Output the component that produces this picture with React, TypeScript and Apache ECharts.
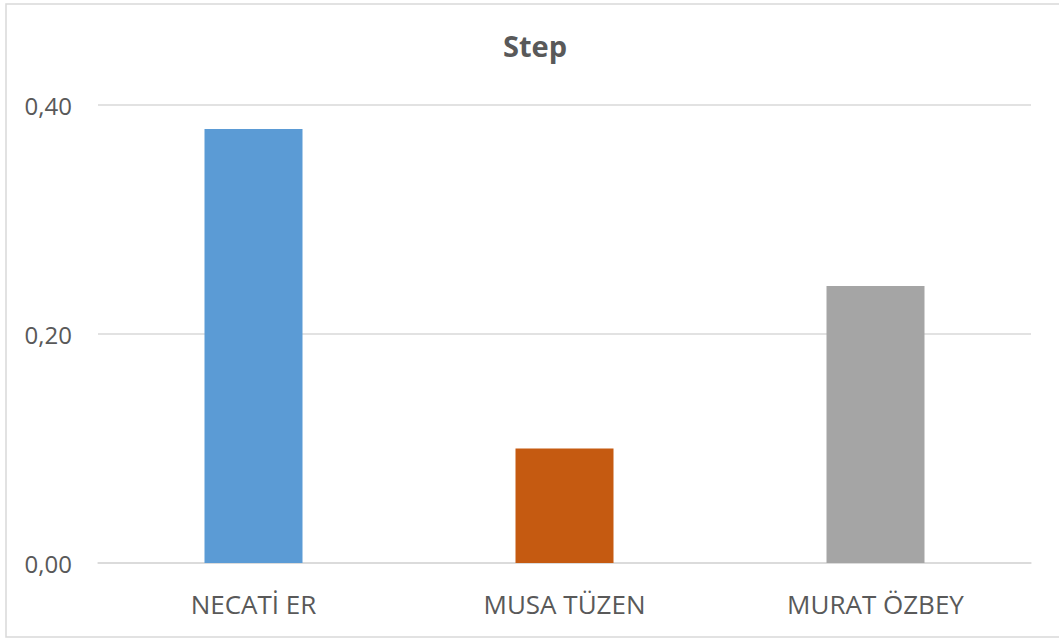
import React, { useEffect, useRef } from "react";
import * as echarts from "echarts";

const categories = ["NECATİ ER", "MUSA TÜZEN", "MURAT ÖZBEY"];
const values = [0.379, 0.1, 0.242];
const colors = ["#5B9BD5", "#C55A11", "#A5A5A5"];
const title = "Step";

export default function App() {
  const ref = useRef<HTMLDivElement>(null);
  useEffect(() => {
    const chart = echarts.init(ref.current!, null, { renderer: "svg" });
    chart.setOption({
      animation: false,
      backgroundColor: "#ffffff",
      title: {
        text: title,
        left: 503,
        top: 31,
        padding: 0,
        textStyle: { fontFamily: "Open Sans", fontSize: 29, fontWeight: "bold", color: "#595959" },
      },
      graphic: [
        {
          type: "rect",
          shape: { x: 6, y: 4, width: 1070, height: 633 },
          style: { fill: "none", stroke: "#d9d9d9", lineWidth: 1.5 },
          silent: true,
        },
      ],
      grid: { left: 98, right: 28, top: 105, bottom: 76 },
      xAxis: {
        type: "category",
        data: categories,
        axisLine: { lineStyle: { color: "#d9d9d9", width: 1.5 } },
        axisTick: { show: false },
        axisLabel: { fontFamily: "Open Sans", fontSize: 26, color: "#595959", margin: 28 },
      },
      yAxis: {
        type: "value",
        min: 0,
        max: 0.4,
        interval: 0.2,
        axisLine: { show: false },
        axisTick: { show: false },
        splitLine: { lineStyle: { color: "#d9d9d9", width: 1.5 } },
        axisLabel: {
          fontFamily: "Open Sans",
          fontSize: 24,
          color: "#595959",
          margin: 26,
          formatter: (v: number) => v.toFixed(2).replace(".", ","),
        },
      },
      series: [
        {
          type: "bar",
          data: values.map((v, i) => ({ value: v, itemStyle: { color: colors[i] } })),
          barWidth: 98,
        },
      ],
    });
    return () => chart.dispose();
  }, []);
  return <div ref={ref} style={{ position: "fixed", left: 0, top: 0, width: 1059, height: 639 }} />;
}
